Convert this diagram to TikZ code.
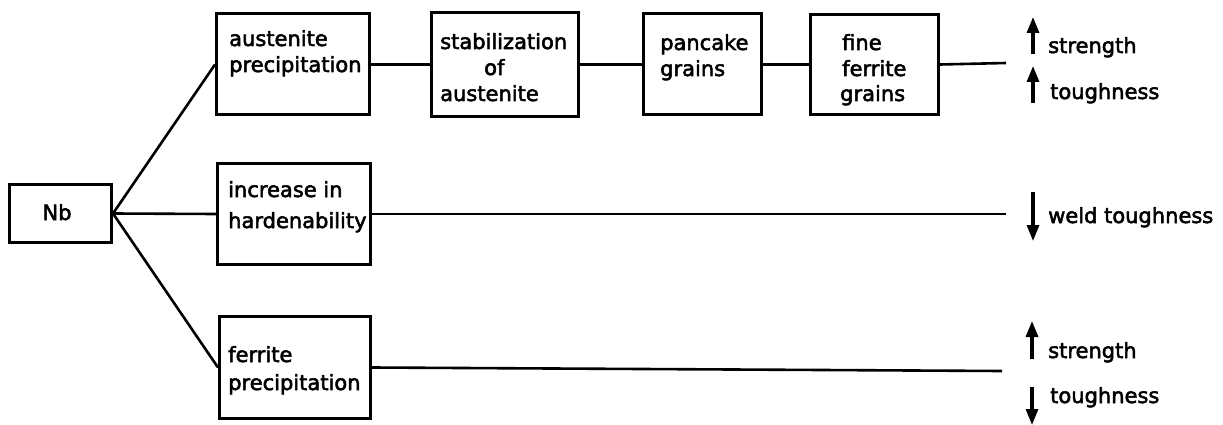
\documentclass[tikz,border=0pt]{standalone}
\usepackage{fontspec}
\setmainfont{DejaVu Sans}[FakeBold=2.5]
\usetikzlibrary{arrows.meta}
\begin{document}
\begin{tikzpicture}[x=1pt,y=-1pt,
  box/.style={draw,line width=3pt,inner sep=0pt,anchor=north west},
  conn/.style={line width=2.6pt},
  arr/.style={line width=3.2pt,-{Triangle[length=16pt,width=12pt]}},
  txt/.style={inner sep=0pt,anchor=base west,font=\fontsize{21}{26}\selectfont}]
\useasboundingbox (0,0) rectangle (1223,425);
% boxes
\node[box,minimum width=102pt,minimum height=58pt] (nb) at (8,183) {};
\node[box,minimum width=153pt,minimum height=101pt] (aus) at (215,12.5) {};
\node[box,minimum width=147pt,minimum height=104pt] (stab) at (430,11) {};
\node[box,minimum width=118pt,minimum height=101pt] (pan) at (642,12.5) {};
\node[box,minimum width=128pt,minimum height=100pt] (fine) at (809,13) {};
\node[box,minimum width=153pt,minimum height=101pt] (inc) at (216,162) {};
\node[box,minimum width=151pt,minimum height=102pt] (fer) at (218,315) {};
% texts
\node[txt,anchor=base] (tnb) at (57,220) {Nb};
\node[txt] (ta1) at (229,46) {austenite};
\node[txt] (ta2) at (229,72) {precipitation};
\node[txt] (ts1) at (440,49) {stabilization};
\node[txt] (ts2) at (484,75) {of};
\node[txt] (ts3) at (440,101) {austenite};
\node[txt] (tp1) at (660,50) {pancake};
\node[txt] (tp2) at (660,76) {grains};
\node[txt] (tf1) at (842,50) {fine};
\node[txt] (tf2) at (842,76) {ferrite};
\node[txt] (tf3) at (840,101) {grains};
\node[txt] (ti1) at (228,197) {increase in};
\node[txt] (ti2) at (228,228) {hardenability};
\node[txt] (tr1) at (228,362) {ferrite};
\node[txt] (tr2) at (228,390) {precipitation};
% connectors
\draw[conn] (nb.east) -- (aus.west);
\draw[conn] (nb.east) -- (inc.west);
\draw[conn] (nb.east) -- (fer.west);
\draw[conn] (aus.east) -- (stab.west);
\draw[conn] (stab.west -| stab.east) -- (pan.west);
\draw[conn] (pan.east) -- (fine.west);
\coordinate (e1) at (1006,63);
\coordinate (e2) at (1006,214);
\coordinate (e3) at (1002,371);
\draw[conn] (fine.east) -- (e1);
\draw[conn] (inc.east) -- (e2);
\draw[conn] (fer.east) -- (e3);
% effects
\draw[arr] (1033,54) -- (1033,17);
\node[txt] (r1a) at (1048,53) {strength};
\draw[arr] (1033,103) -- (1033,66);
\node[txt] (r1b) at (1050,99) {toughness};
\draw[arr] (1033,192) -- (1033,241);
\node[txt] (r2) at (1048,223) {weld toughness};
\draw[arr] (1032,359) -- (1032,321);
\node[txt] (r3a) at (1048,358) {strength};
\draw[arr] (1032,387) -- (1032,425);
\node[txt] (r3b) at (1050,403) {toughness};
\end{tikzpicture}
\end{document}
